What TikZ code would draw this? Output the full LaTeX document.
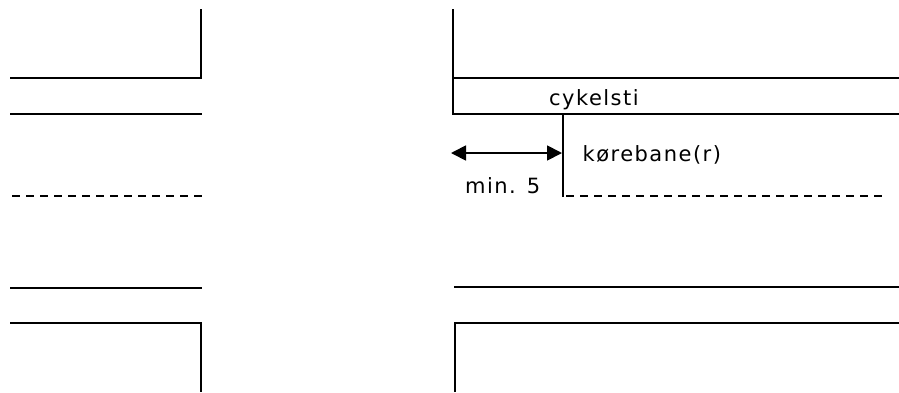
\documentclass[tikz,border=0pt]{standalone}
\usepackage{fontspec}
\setmainfont{DejaVu Sans}
\newfontfamily\lblfont[LetterSpace=7]{DejaVu Sans}
\usetikzlibrary{arrows.meta}
\begin{document}
\begin{tikzpicture}[x=1pt,y=-1pt,
  road/.style={line width=1.8pt,black},
  lane/.style={line width=1.8pt,black,dash pattern=on 8pt off 6pt},
  lbl/.style={inner sep=0pt,font=\lblfont\fontsize{21}{24}\selectfont,text=black}]
\useasboundingbox (0,0) rectangle (899,392);
\draw[road] (201,9) -- (201,78) -- (10,78);
\draw[road] (10,114) -- (202,114);
\draw[lane] (12,196) -- (202,196);
\draw[road] (10,288) -- (202,288);
\draw[road] (10,323) -- (201,323) -- (201,392);
\draw[road] (453,9) -- (453,115);
\draw[road] (453,78) -- (899,78);
\draw[road] (453,114) -- (899,114);
\draw[road] (563,114) -- (563,197);
\draw[lane] (566,196) -- (884,196);
\draw[road] (454,287) -- (899,287);
\draw[road] (455,392) -- (455,323) -- (899,323);
\coordinate (al) at (451,153);
\coordinate (ar) at (562,153);
\draw[road,{Triangle[length=15pt,width=15pt]}-{Triangle[length=15pt,width=15pt]}] (al) -- (ar);
\node[lbl,anchor=base west] (c) at (549,105) {cykelsti};
\node[lbl,anchor=base west] (k) at (582.5,161) {kørebane(r)};
\node[lbl,anchor=base west] (m) at (465,193) {min. 5};
\end{tikzpicture}
\end{document}
